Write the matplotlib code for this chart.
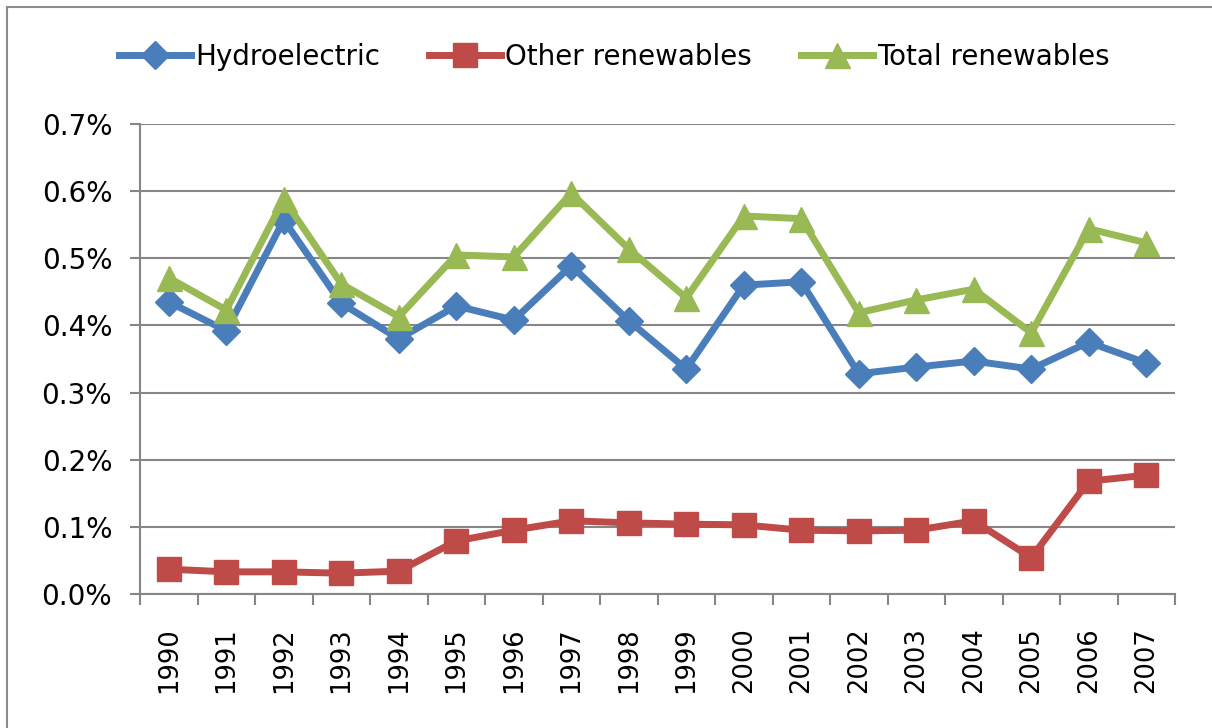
import matplotlib
matplotlib.use('Agg')
import matplotlib.pyplot as plt
from matplotlib.patches import Rectangle
from matplotlib.ticker import FuncFormatter, FixedLocator

years = list(range(1990, 2008))
hydro = [0.435, 0.392, 0.557, 0.433, 0.380, 0.429, 0.408, 0.489, 0.407, 0.335,
         0.460, 0.465, 0.328, 0.338, 0.347, 0.335, 0.375, 0.344]
other = [0.037, 0.033, 0.033, 0.031, 0.034, 0.079, 0.095, 0.109, 0.106, 0.104,
         0.103, 0.095, 0.094, 0.095, 0.109, 0.054, 0.168, 0.177]
total = [0.471, 0.423, 0.588, 0.462, 0.413, 0.505, 0.502, 0.597, 0.514, 0.441,
         0.563, 0.559, 0.419, 0.438, 0.454, 0.389, 0.544, 0.523]

plt.rcParams['font.family'] = ['DejaVu Sans']

fig = plt.figure(figsize=(12.12, 7.28), dpi=100)
ax = fig.add_axes([140 / 1212, 1 - 594 / 728, 1035 / 1212, 470 / 728])

# outer chart border
fig.patches.append(Rectangle((7 / 1212, -0.01), 1.0, 1 - 7 / 728 + 0.01,
                             transform=fig.transFigure, fill=False,
                             edgecolor='#8c8c8c', linewidth=1.5))

x = list(range(len(years)))
ax.plot(x, hydro, color='#4a7ebb', lw=5, marker='D', ms=14, label='Hydroelectric')
ax.plot(x, other, color='#be4b48', lw=5, marker='s', ms=17, label='Other renewables')
ax.plot(x, total, color='#98b954', lw=5, marker='^', ms=18, label='Total renewables')

ax.set_xlim(-0.5, len(years) - 0.5)
ax.set_ylim(0, 0.7)
ax.set_yticks([i / 10 for i in range(8)])
ax.yaxis.set_major_formatter(FuncFormatter(lambda v, p: '%.1f%%' % v))
ax.grid(axis='y', color='#868686', lw=1.5)
ax.set_axisbelow(True)

ax.set_xticks(x)
ax.set_xticklabels([str(y) for y in years], rotation=90)
ax.tick_params(axis='x', length=0, pad=24, labelsize=18.5)
ax.xaxis.set_minor_locator(FixedLocator([i - 0.5 for i in range(len(years) + 1)]))
ax.tick_params(axis='x', which='minor', length=8, width=1.5, color='#868686')
ax.tick_params(axis='y', length=7, width=1.5, color='#868686', labelsize=20, pad=13)

for s in ['top', 'right']:
    ax.spines[s].set_visible(False)
for s in ['left', 'bottom']:
    ax.spines[s].set_color('#868686')
    ax.spines[s].set_linewidth(1.5)

fig.legend(loc='center', bbox_to_anchor=(0.507, 1 - 57 / 728), ncol=3, frameon=False,
           fontsize=20, handlelength=2.6, columnspacing=1.75, handletextpad=0.15)

fig.savefig('out.png', dpi=100)
